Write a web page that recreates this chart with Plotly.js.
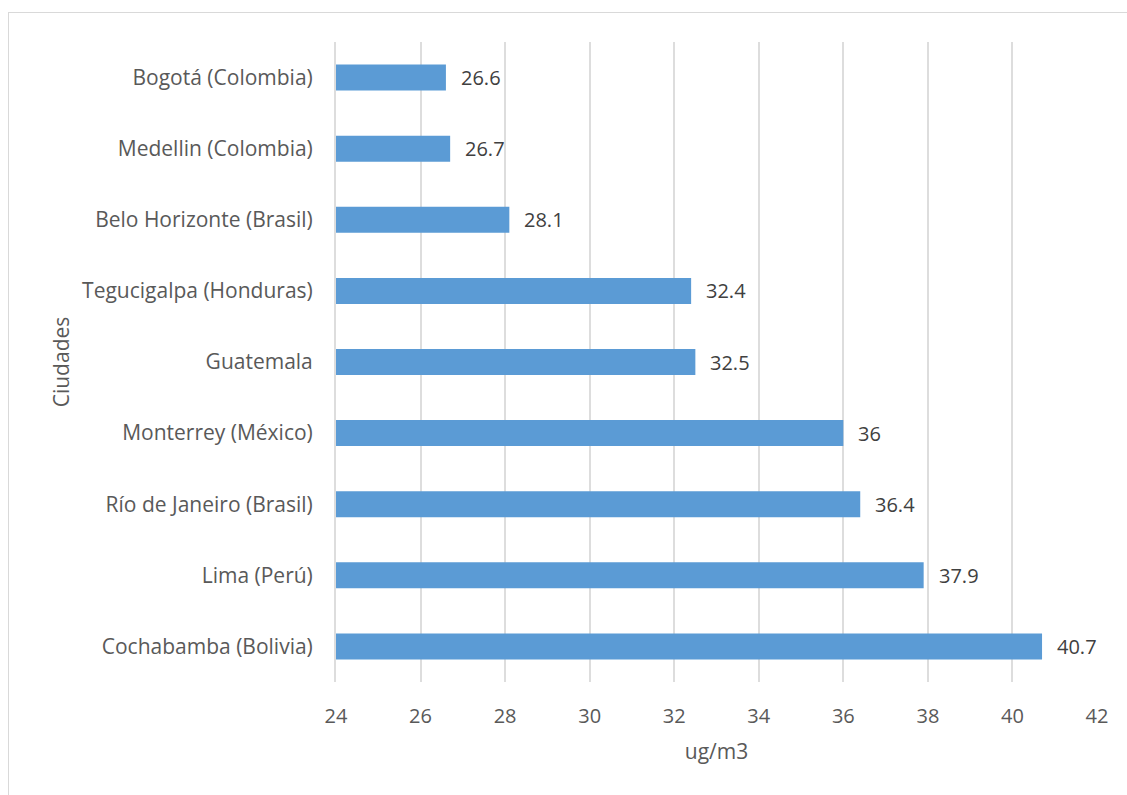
<!DOCTYPE html>
<html>
<head>
<meta charset="utf-8">
<script src="https://cdn.plot.ly/plotly-3.0.1.min.js"></script>
<style>
  html, body { margin: 0; padding: 0; background: #fff; }
  #wrap { position: relative; width: 1127px; height: 795px; overflow: hidden; }
  #frame { position: absolute; left: 8px; top: 12px; width: 1140px; height: 800px;
           border-left: 1.5px solid #D9D9D9; border-top: 1.5px solid #D9D9D9; pointer-events: none; }
  #chart { position: absolute; left: 0; top: 0; width: 1127px; height: 795px; }
</style>
</head>
<body>
<div id="wrap">
  <div id="chart"></div>
  <div id="frame"></div>
</div>
<script>
// PM2.5 annual concentration by city (ug/m3)
const cities = [
  "Bogotá (Colombia)",
  "Medellin (Colombia)",
  "Belo Horizonte (Brasil)",
  "Tegucigalpa (Honduras)",
  "Guatemala",
  "Monterrey (México)",
  "Río de Janeiro (Brasil)",
  "Lima (Perú)",
  "Cochabamba (Bolivia)"
];
const values = [26.6, 26.7, 28.1, 32.4, 32.5, 36, 36.4, 37.9, 40.7];
const xTicks = [24, 26, 28, 30, 32, 34, 36, 38, 40, 42];

const font = "'Open Sans', sans-serif";

const trace = {
  type: "bar",
  orientation: "h",
  y: cities,
  x: values,
  base: 0,
  marker: { color: "#5B9BD5" },
  hoverinfo: "skip"
};

// value labels placed just right of each bar end
const labels = values.map((v, i) => ({
  x: v,
  y: cities[i],
  xref: "x",
  yref: "y",
  text: String(v),
  showarrow: false,
  xanchor: "left",
  yanchor: "middle",
  xshift: 13,
  font: { family: font, size: 20, color: "#404040" }
}));

const layout = {
  width: 1127,
  height: 795,
  margin: { l: 336, r: 30, t: 42, b: 113 },
  paper_bgcolor: "#ffffff",
  plot_bgcolor: "#ffffff",
  showlegend: false,
  bargap: 0.634,
  font: { family: font, size: 21, color: "#595959" },
  annotations: labels,
  xaxis: {
    range: [24, 42],
    tickvals: xTicks,
    ticktext: xTicks.map(String),
    showgrid: true,
    gridcolor: "#DDDDDD",
    gridwidth: 2,
    zeroline: false,
    showline: false,
    ticks: "outside",
    ticklen: 16,
    tickcolor: "rgba(0,0,0,0)",
    tickfont: { family: font, size: 20, color: "#595959" },
    title: { text: "ug/m3", font: { family: font, size: 21, color: "#595959" }, standoff: 16 },
    automargin: false,
    fixedrange: true
  },
  yaxis: {
    autorange: "reversed",
    showgrid: false,
    zeroline: false,
    showline: true,
    linecolor: "#DDDDDD",
    linewidth: 2,
    ticks: "outside",
    ticklen: 17,
    tickcolor: "rgba(0,0,0,0)",
    tickfont: { family: font, size: 21, color: "#595959" },
    title: { text: "Ciudades", font: { family: font, size: 21, color: "#595959" }, standoff: 7 },
    automargin: false,
    fixedrange: true
  }
};

Plotly.newPlot("chart", [trace], layout, { staticPlot: true, displayModeBar: false });
</script>
</body>
</html>
